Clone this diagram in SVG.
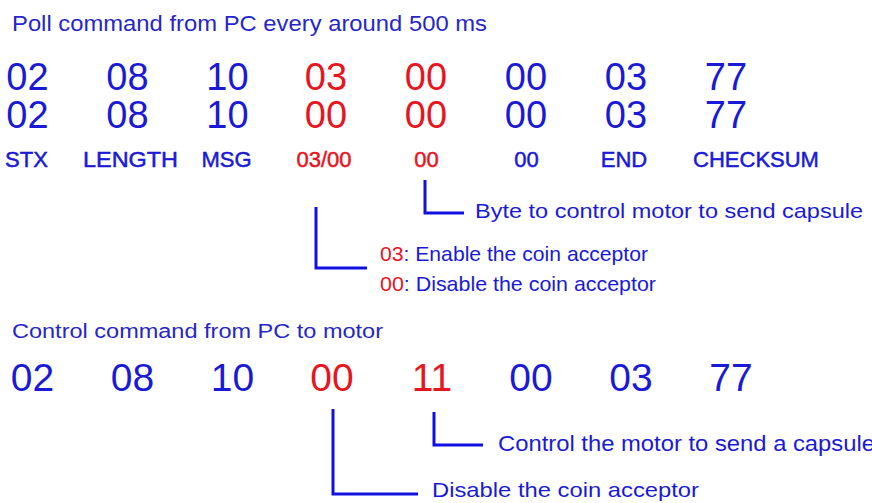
<svg xmlns="http://www.w3.org/2000/svg" width="872" height="503" viewBox="0 0 872 503">
  <style>
    text { font-family: "Liberation Sans", Arial, sans-serif; }
    .b { fill: #1a1ad6; }
    .r { fill: #e8141e; }
    .title { font-size: 22px; fill: #2626c8; }
    .num { font-size: 38px; text-anchor: middle; }
    .num2 { font-size: 39px; text-anchor: middle; }
    .lbl { font-size: 22px; text-anchor: middle; stroke-width: 0.5px; }
    .lbl.b { stroke: #1a1ad6; }
    .lbl.r { stroke: #e8141e; }
    .note { font-size: 21px; fill: #1a1ad6; }
    .conn { fill: none; stroke: #1010e0; stroke-width: 3; }
  </style>
  <rect width="872" height="503" fill="#ffffff"/>

  <g id="poll-title">
    <text class="title" x="12" y="31" textLength="475" lengthAdjust="spacingAndGlyphs">Poll command from PC every around 500 ms</text>
  </g>

  <g id="poll-row1">
    <text class="num b" x="27.5" y="90">02</text>
    <text class="num b" x="127.5" y="90">08</text>
    <text class="num b" x="227.5" y="90">10</text>
    <text class="num r" x="326" y="90">03</text>
    <text class="num r" x="426" y="90">00</text>
    <text class="num b" x="526" y="90">00</text>
    <text class="num b" x="626" y="90">03</text>
    <text class="num b" x="726" y="90">77</text>
  </g>

  <g id="poll-row2">
    <text class="num b" x="27.5" y="128">02</text>
    <text class="num b" x="127.5" y="128">08</text>
    <text class="num b" x="227.5" y="128">10</text>
    <text class="num r" x="326" y="128">00</text>
    <text class="num r" x="426" y="128">00</text>
    <text class="num b" x="526" y="128">00</text>
    <text class="num b" x="626" y="128">03</text>
    <text class="num b" x="726" y="128">77</text>
  </g>

  <g id="poll-labels">
    <text class="lbl b" x="26.5" y="167">STX</text>
    <text class="lbl b" x="130.5" y="167" textLength="95" lengthAdjust="spacingAndGlyphs">LENGTH</text>
    <text class="lbl b" x="226.5" y="167">MSG</text>
    <text class="lbl r" x="324" y="167">03/00</text>
    <text class="lbl r" x="426.5" y="167">00</text>
    <text class="lbl b" x="526.5" y="167">00</text>
    <text class="lbl b" x="624" y="167">END</text>
    <text class="lbl b" x="756" y="167">CHECKSUM</text>
  </g>

  <g id="note-capsule-byte">
    <text class="note" x="475" y="218" textLength="388" lengthAdjust="spacingAndGlyphs">Byte to control motor to send capsule</text>
  </g>

  <g id="note-enable-disable">
    <text class="note" x="380" y="261" textLength="268" lengthAdjust="spacingAndGlyphs"><tspan class="r">03</tspan>: Enable the coin acceptor</text>
    <text class="note" x="380" y="291" textLength="276" lengthAdjust="spacingAndGlyphs"><tspan class="r">00</tspan>: Disable the coin acceptor</text>
  </g>

  <g id="control-title">
    <text class="title" x="12" y="338" font-size="20" style="font-size:20px" textLength="371" lengthAdjust="spacingAndGlyphs">Control command from PC to motor</text>
  </g>

  <g id="control-row">
    <text class="num2 b" x="32.5" y="391">02</text>
    <text class="num2 b" x="132.5" y="391">08</text>
    <text class="num2 b" x="232.5" y="391">10</text>
    <text class="num2 r" x="332" y="391">00</text>
    <text class="num2 r" x="432" y="391">11</text>
    <text class="num2 b" x="531" y="391">00</text>
    <text class="num2 b" x="631" y="391">03</text>
    <text class="num2 b" x="731" y="391">77</text>
  </g>

  <g id="note-motor">
    <text class="note" x="498" y="451" style="font-size:22px" textLength="377" lengthAdjust="spacingAndGlyphs">Control the motor to send a capsule</text>
  </g>

  <g id="note-disable">
    <text class="note" x="432" y="497" textLength="267" lengthAdjust="spacingAndGlyphs">Disable the coin acceptor</text>
  </g>

  <g id="connectors">
    <path class="conn" d="M425 180 V213 H464"/>
    <path class="conn" d="M316 207 V268 H367"/>
    <path class="conn" d="M434 412 V445 H483"/>
    <path class="conn" d="M333 409 V494 H418"/>
  </g>
</svg>
